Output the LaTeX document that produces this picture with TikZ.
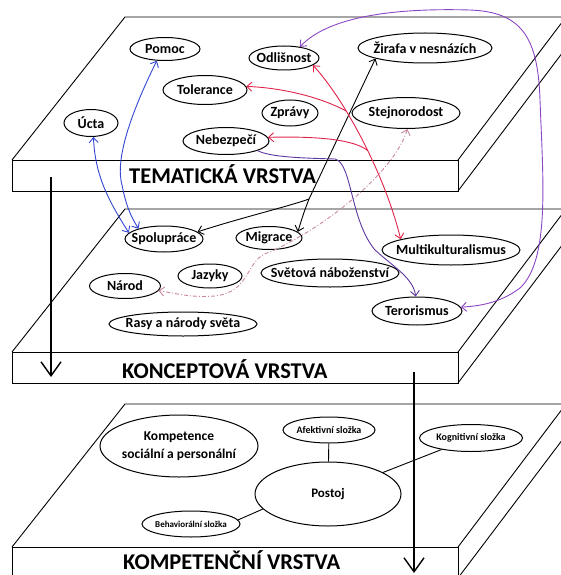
\documentclass[tikz,border=0pt]{standalone}
\usepackage{fontspec}
\setmainfont{Carlito}
\usetikzlibrary{shapes.geometric,arrows.meta}

\definecolor{spojblue}{RGB}{50,70,210}
\definecolor{spojred}{RGB}{225,35,75}
\definecolor{spojpurple}{RGB}{140,70,195}
\definecolor{spojviolet}{RGB}{95,55,160}
\definecolor{spojpink}{RGB}{200,135,160}

\newcommand{\elltext}[1]{\makebox[0pt]{#1}}

\begin{document}
\begin{tikzpicture}[
x=1pt, y=-1pt,
>={Straight Barb[length=5pt, width=9pt]},
slabline/.style={draw=black, line width=0.9pt},
ellnode/.style={ellipse, draw, line width=1pt, inner sep=0pt, font=\bfseries\fontsize{14}{16}\selectfont},
smallnode/.style={ellnode, font=\bfseries\fontsize{10}{12}\selectfont},
layertext/.style={anchor=base west, inner sep=0pt, font=\bfseries\fontsize{22.5}{24}\selectfont},
downarrow/.style={line width=1.4pt, -{Straight Barb[length=14pt, width=20pt]}},
conn/.style={line width=0.9pt},
]
\useasboundingbox (0,0) rectangle (561,575);
\clip (0,0) rectangle (561,575);

%Layers
\foreach \ty in {17,209,404}{
  \draw[slabline] (12,\ty+143) -- (125,\ty) -- (600,\ty);
  \draw[slabline] (12,\ty+143) rectangle (458,\ty+174);
  \draw[slabline] (458,\ty+143) -- (566,\ty);
  \draw[slabline] (458,\ty+174) -- (566,\ty+31);
}
\node[layertext] (tematicka) at (129,183) {TEMATICKÁ VRSTVA};
\node[layertext] (konceptova) at (122,378) {KONCEPTOVÁ VRSTVA};
\node[layertext] (kompetencni) at (123,569) {KOMPETENČNÍ VRSTVA};

%Down arrows
\coordinate (downA) at (51,177);
\coordinate (downB) at (51,377);
\coordinate (downC) at (414,372);
\coordinate (downD) at (414,573);
\draw[downarrow] (downA) -- (downB);
\draw[downarrow] (downC) -- (downD);

%Nodes, tematicka vrstva
\node[ellnode, minimum width=70pt, minimum height=23pt] (pomoc) at (165,49) {\elltext{Pomoc}};
\node[ellnode, minimum width=70pt, minimum height=24pt] (odlisnost) at (284,58) {\elltext{Odlišnost}};
\node[ellnode, minimum width=134pt, minimum height=30pt] (zirafa) at (425,48) {\elltext{Žirafa v nesnázích}};
\node[ellnode, minimum width=84pt, minimum height=29pt] (tolerance) at (205,90) {\elltext{Tolerance}};
\node[ellnode, minimum width=56pt, minimum height=26pt] (zpravy) at (290,113) {\elltext{Zprávy}};
\node[ellnode, minimum width=108pt, minimum height=31pt] (stejnorodost) at (406,113) {\elltext{Stejnorodost}};
\node[ellnode, minimum width=54pt, minimum height=27pt] (ucta) at (91,123) {\elltext{Úcta}};
\node[ellnode, minimum width=86pt, minimum height=27pt] (nebezpeci) at (226,141) {\elltext{Nebezpečí}};

%Nodes, konceptova vrstva
\node[ellnode, minimum width=78pt, minimum height=26pt] (spoluprace) at (164,239) {\elltext{Spolupráce}};
\node[ellnode, minimum width=66pt, minimum height=23pt] (migrace) at (269,238) {\elltext{Migrace}};
\node[ellnode, minimum width=64pt, minimum height=24pt] (jazyky) at (210,276) {\elltext{Jazyky}};
\node[ellnode, minimum width=138pt, minimum height=28pt] (svetova) at (330,273) {\elltext{Světová náboženství}};
\node[ellnode, minimum width=71pt, minimum height=25pt] (narod) at (125,286) {\elltext{Národ}};
\node[ellnode, minimum width=148pt, minimum height=24pt] (rasy) at (183,324) {\elltext{Rasy a národy světa}};
\node[ellnode, minimum width=138pt, minimum height=30pt] (multi) at (451,250) {\elltext{Multikulturalismus}};
\node[ellnode, minimum width=90pt, minimum height=28pt] (terorismus) at (417,311) {\elltext{Terorismus}};

%Nodes, kompetencni vrstva
\node[ellnode, minimum width=158pt, minimum height=62pt, font=\bfseries\fontsize{13.5}{18}\selectfont] (kompetence) at (179,446)
  {\elltext{\begin{tabular}{@{}c@{}}Kompetence\\sociální a personální\end{tabular}}};
\node[smallnode, minimum width=92pt, minimum height=26pt] (afektivni) at (329,430) {\elltext{Afektivní složka}};
\node[smallnode, minimum width=103pt, minimum height=27pt] (kognitivni) at (471,438) {\elltext{Kognitivní složka}};
\node[ellnode, minimum width=146pt, minimum height=64pt, font=\bfseries\fontsize{13}{15}\selectfont] (postoj) at (328,494) {\elltext{Postoj}};
\node[smallnode, minimum width=98pt, minimum height=26pt, font=\bfseries\fontsize{9}{11}\selectfont] (behavioral) at (191,524) {\elltext{Behaviorální složka}};

%Connectors
\draw[conn, spojblue, <->] (ucta.280) .. controls (95,175) and (108,200) .. (spoluprace.170);
\draw[conn, spojblue, <->] (pomoc.235) .. controls (130,115) and (115,160) .. (122,185)
  .. controls (126,205) and (130,215) .. (spoluprace.158);

\coordinate (blkfork) at (309,199);
\draw[conn, <->] (zirafa.192) -- (blkfork) .. controls (304,212) .. (migrace.12);
\draw[conn, ->] (blkfork) .. controls (290,206) and (240,218) .. (spoluprace.12);

\draw[conn, spojred, <->] (odlisnost.-14) .. controls (345,100) and (385,175) .. (multi.168)
  coordinate[pos=0.33] (tolfork) coordinate[pos=0.55] (nebfork);
\draw[conn, spojred, ->] (tolfork) .. controls (322,98) and (285,88) .. (tolerance.5);
\draw[conn, spojred, ->] (nebfork) .. controls (355,140) and (320,136) .. (nebezpeci.5);

\draw[conn, spojpink, dash pattern=on 4pt off 2pt on 1pt off 2pt, <->] (stejnorodost.-85)
  .. controls (395,170) and (330,225) .. (270,252)
  .. controls (245,258) and (252,292) .. (215,296)
  .. controls (190,298) and (175,293) .. (narod.-8);

\draw[conn, spojviolet, ->] (nebezpeci.-17) .. controls (270,157) and (300,158) .. (335,159)
  .. controls (352,163) and (350,220) .. (375,250)
  .. controls (395,268) and (413,278) .. (terorismus.95);
\draw[conn, spojpurple, <->] (odlisnost.35) .. controls (330,15) and (400,8) .. (470,10)
  .. controls (520,12) and (538,35) .. (540,100)
  .. controls (543,180) and (550,260) .. (520,288)
  .. controls (500,303) and (480,306) .. (terorismus.5);

\draw[conn] (afektivni) -- (postoj);
\draw[conn] (postoj) -- (kognitivni);
\draw[conn] (behavioral.5) -- (postoj.193);
\end{tikzpicture}
\end{document}
